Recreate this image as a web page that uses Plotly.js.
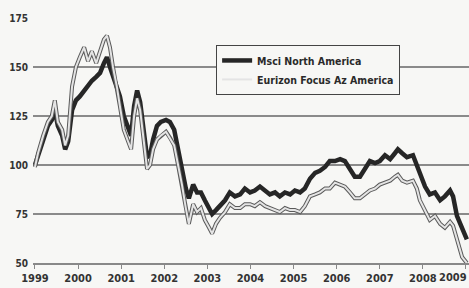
<!DOCTYPE html>
<html>
<head>
<meta charset="utf-8">
<script src="https://cdn.plot.ly/plotly-3.0.1.min.js"></script>
<style>
html,body{margin:0;padding:0;background:#f7f7f5;}
#chart{width:469px;height:288px;}
</style>
</head>
<body>
<div id="chart"></div>
<script>
// time in decimal years
const dates = [1999.00,1999.07,1999.19,1999.30,1999.39,1999.46,1999.53,1999.63,1999.70,1999.77,1999.86,1999.95,
2000.04,2000.14,2000.23,2000.32,2000.42,2000.51,2000.60,2000.67,2000.74,2000.81,2000.90,2000.97,
2001.06,2001.16,2001.23,2001.30,2001.37,2001.44,2001.53,2001.60,2001.67,2001.74,2001.83,2001.92,
2002.04,2002.13,2002.23,2002.32,2002.41,2002.50,2002.57,2002.67,2002.76,2002.85,2002.94,
2003.04,2003.11,2003.20,2003.29,2003.41,2003.52,2003.64,2003.76,2003.87,
2003.99,2004.10,2004.22,2004.34,2004.45,2004.57,2004.68,2004.80,2004.92,
2005.03,2005.15,2005.26,2005.38,2005.50,2005.61,2005.73,2005.84,2005.96,
2006.08,2006.19,2006.31,2006.42,2006.54,2006.66,2006.77,2006.89,
2007.00,2007.12,2007.24,2007.35,2007.42,2007.52,2007.63,2007.77,2007.86,2007.93,
2008.05,2008.16,2008.28,2008.40,2008.51,2008.63,2008.70,2008.79,2008.91,2009.02];

const msciNorthAmerica = [100,105,113,120,123,128,120,115,108,112,128,133,
135,138,140,143,145,147,152,155,150,145,140,135,
125,118,115,130,138,132,118,104,105,113,120,122,
123,122,118,108,97,88,83,90,86,86,82,
78,75,77,79,82,86,84,85,88,
86,87,89,87,85,86,84,86,85,
87,86,88,93,96,97,99,102,102,
103,102,98,94,94,98,102,101,
102,105,103,106,108,106,104,105,100,96,
89,85,86,82,84,87,84,74,67,62];

const eurizonFocusAzAmerica = [99,106,115,122,125,133,122,118,110,115,140,150,
155,160,153,158,152,158,164,166,160,150,140,130,
118,112,108,125,134,128,110,98,100,108,113,115,
117,114,110,100,90,78,70,80,76,78,72,
68,65,70,73,76,80,78,78,80,
80,79,81,79,78,77,76,78,77,
77,76,79,84,85,86,88,88,91,
90,89,86,83,83,85,87,88,
90,91,92,94,95,92,91,92,88,82,
77,72,74,70,68,71,69,62,53,50];

const yearTicks = [1999,2000,2001,2002,2003,2004,2005,2006,2007,2008,2009];
const yearLabels = ["1999","2000","2001","2002","2003","2004","2005","2006","2007","2008",""];
const lastYearLabel = "2009";
const yTicks = [50,75,100,125,150,175];

const FONT = '"DejaVu Sans Condensed","Liberation Sans Narrow",sans-serif';

const traces = [
  {x: dates, y: msciNorthAmerica, type: 'scatter', mode: 'lines', name: 'Msci North America',
   line: {color: '#262626', width: 4.5, shape: 'linear'}},
  {x: dates, y: eurizonFocusAzAmerica, type: 'scatter', mode: 'lines', name: 'Eurizon outline',
   showlegend: false, hoverinfo: 'skip',
   line: {color: '#5a5a5a', width: 4}},
  {x: dates, y: eurizonFocusAzAmerica, type: 'scatter', mode: 'lines', name: 'Eurizon Focus Az America',
   line: {color: '#e4e4e4', width: 2}}
];

const layout = {
  width: 469, height: 288,
  margin: {l: 33, r: 0, t: 18, b: 25},
  paper_bgcolor: '#f7f7f5', plot_bgcolor: '#f7f7f5',
  showlegend: true,
  legend: {
    x: 0.42, y: 0.89, xanchor: 'left', yanchor: 'top',
    bgcolor: '#f7f7f5', bordercolor: '#444', borderwidth: 1,
    font: {family: FONT, size: 10.5, color: '#2a2a2a', weight: 'bold'},
    tracegroupgap: 0, itemwidth: 30
  },
  xaxis: {
    type: 'linear', range: [1998.954, 2009.07],
    tickvals: yearTicks, ticktext: yearLabels,
    ticks: 'outside', ticklen: 4, tickcolor: '#888', tickwidth: 1,
    showgrid: false, zeroline: false,
    showline: true, linecolor: '#888', linewidth: 1.5,
    tickfont: {family: FONT, size: 11, color: '#333', weight: 'bold'},
    fixedrange: true
  },
  yaxis: {
    range: [50, 175], tickvals: yTicks,
    showgrid: true, gridcolor: '#8a8a8a', gridwidth: 1.6,
    zeroline: false, showline: false, ticks: '',
    ticklabelstandoff: 4,
    tickfont: {family: FONT, size: 10, color: '#333', weight: 'bold'},
    fixedrange: true
  },
  annotations: [
    {xref: 'paper', yref: 'paper', x: 1, y: 0, yshift: -6, xanchor: 'right', yanchor: 'top',
     text: lastYearLabel, showarrow: false,
     font: {family: FONT, size: 11, color: '#333', weight: 'bold'}}
  ]
};

Plotly.newPlot('chart', traces, layout, {displayModeBar: false, staticPlot: true});
</script>
</body>
</html>
